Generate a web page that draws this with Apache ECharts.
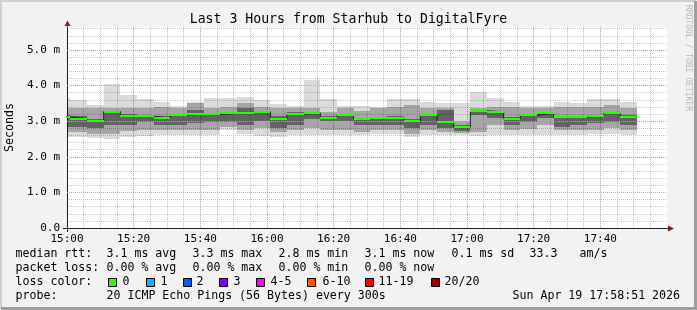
<!DOCTYPE html>
<html><head><meta charset="utf-8">
<script src="https://cdn.jsdelivr.net/npm/echarts@6/dist/echarts.min.js"></script>
<style>html,body{margin:0;padding:0;background:#f2f2f2}#c{width:697px;height:310px}</style>
</head><body><div id="c"></div>
<script>
// ---- data (minutes since 15:00; values in ms) ----
const barStartMin = [-4,1,6,11,16,21,26,31,36,41,46,51,56,61,66,71,76,81,86,91,96,101,106,111,116,121,126,131,136,141,146,151,156,161,166];
const stepMin = 5;
const rttMax = [3.65,3.60,3.46,4.05,3.74,3.62,3.55,3.43,3.55,3.66,3.65,3.67,3.60,3.47,3.44,4.16,3.63,3.43,3.43,3.41,3.62,3.63,3.55,3.50,3.52,3.83,3.66,3.55,3.43,3.43,3.55,3.50,3.62,3.62,3.55];
const rttHi2 = [3.36,3.36,3.36,3.38,3.38,3.36,3.41,3.36,3.50,3.36,3.41,3.50,3.41,3.36,3.36,3.36,3.27,3.36,3.30,3.36,3.41,3.46,3.36,3.36,3.00,3.36,3.41,3.41,3.36,3.36,3.41,3.41,3.41,3.46,3.36];
const rttHi1 = [3.17,3.14,3.05,3.30,3.20,3.18,3.15,3.20,3.31,3.22,3.25,3.38,3.30,3.15,3.25,3.26,3.14,3.20,3.10,3.12,3.14,3.05,3.20,3.31,2.88,3.32,3.30,3.12,3.20,3.25,3.14,3.14,3.18,3.25,3.18];
const rttMedian = [3.12,3.07,3.00,3.27,3.14,3.14,3.09,3.17,3.20,3.19,3.22,3.24,3.27,3.05,3.20,3.23,3.10,3.17,3.07,3.10,3.10,3.00,3.17,2.97,2.83,3.29,3.27,3.07,3.17,3.22,3.11,3.11,3.16,3.22,3.13];
const rttLo1 = [2.85,2.84,2.80,2.89,2.89,2.98,2.89,2.89,2.94,2.98,2.98,2.89,3.00,2.82,2.89,3.05,3.00,3.00,2.89,2.89,2.89,2.80,2.89,2.80,2.72,3.17,3.10,2.89,2.98,3.10,2.84,2.89,2.94,2.98,2.89];
const rttLo2 = [2.70,2.70,2.65,2.65,2.72,2.75,2.75,2.75,2.75,2.75,2.85,2.75,2.80,2.70,2.75,2.80,2.75,2.75,2.70,2.75,2.75,2.65,2.75,2.70,2.68,2.70,2.89,2.75,2.78,2.89,2.75,2.75,2.75,2.80,2.75];
const rttMin = [2.56,2.56,2.53,2.49,2.56,2.59,2.60,2.62,2.60,2.61,2.75,2.65,2.58,2.56,2.61,2.61,2.62,2.61,2.61,2.65,2.65,2.56,2.61,2.61,2.62,2.58,2.61,2.61,2.62,2.62,2.61,2.61,2.65,2.65,2.61];

const xTickLabels = ['15:00','15:20','15:40','16:00','16:20','16:40','17:00','17:20','17:40'];
const yTickLabels = ['0.0','1.0 m','2.0 m','3.0 m','4.0 m','5.0 m'];
const lossLabels = ['0','1','2','3','4-5','6-10','11-19','20/20'];
const lossColors = ['#26ff00','#00b8ff','#0059ff','#7e00ff','#ff00ff','#ff5500','#ff0000','#a10000'];
const statRtt = ['3.1 ms avg','3.3 ms max','2.8 ms min','3.1 ms now','0.1 ms sd','33.3','am/s'];
const statLoss = ['0.00 % avg','0.00 % max','0.00 % min','0.00 % now'];
const probeText = '20 ICMP Echo Pings (56 Bytes) every 300s';
const stampText = 'Sun Apr 19 17:58:51 2026';
const titleText = 'Last 3 Hours from Starhub to DigitalFyre';

// ---- chart ----
const FONT = '"DejaVu Sans Mono", monospace';
const chart = echarts.init(document.getElementById('c'), null, {renderer:'canvas', width:697, height:310});

const smokeData = barStartMin.map((t,i)=>[t, t+stepMin, rttMin[i], rttLo2[i], rttLo1[i], rttMedian[i], rttHi1[i], rttHi2[i], rttMax[i]]);
const stepData = barStartMin.map((t,i)=>[t, rttMedian[i]]);
stepData.push([barStartMin[barStartMin.length-1]+stepMin, rttMedian[rttMedian.length-1]]);
const majorYLines = yTickLabels.map((l,i)=>({yAxis:i})).slice(1);

function clipRect(p0, p1, cs){
  const x0 = Math.round(Math.min(p0[0],p1[0])), x1 = Math.round(Math.max(p0[0],p1[0]));
  const y0 = Math.round(Math.min(p0[1],p1[1])), y1 = Math.round(Math.max(p0[1],p1[1]));
  return echarts.graphic.clipRectByRect({x:x0,y:y0,width:x1-x0,height:y1-y0},{x:cs.x,y:cs.y,width:cs.width,height:cs.height});
}
const smokeLayers = [[2,8,'rgba(0,0,0,0.14)'],[3,7,'rgba(0,0,0,0.24)'],[4,6,'rgba(0,0,0,0.40)']];
function renderSmoke(params, api){
  const cs = params.coordSys;
  const t0 = api.value(0), t1 = api.value(1);
  const children = [];
  smokeLayers.forEach(([a,b,c])=>{
    const r = clipRect(api.coord([t0, api.value(b)]), api.coord([t1, api.value(a)]), cs);
    if (r) children.push({type:'rect', shape:r, style:{fill:c}});
  });
  return {type:'group', children};
}
function renderMedian(params, api){
  const cs = params.coordSys;
  const p0 = api.coord([api.value(0), api.value(5)]);
  const p1 = api.coord([api.value(1), api.value(5)]);
  const y = Math.round(p0[1]);
  const r = echarts.graphic.clipRectByRect({x:Math.round(p0[0]), y:y-1, width:Math.round(p1[0])-Math.round(p0[0]), height:2},{x:cs.x,y:cs.y,width:cs.width,height:cs.height});
  if (!r) return null;
  return {type:'rect', shape:r, style:{fill:lossColors[0]}};
}

const GRID = {left:67, right:30, top:26.9, bottom:82};
const GRAY = '#c6c6c6', PINK = '#f08a8a';
const minorLine = {show:true, showMaxLine:false, lineStyle:{color:GRAY, type:[1,1], width:1}};
const majorLine = {show:true, showMaxLine:false, showMinLine:false, lineStyle:{color:PINK, type:[1,1], width:1}};

const graphics = [];
// borders
graphics.push({type:'polyline', shape:{points:[[1,309],[1,1],[696,1]]}, style:{stroke:'#cfcfcf', lineWidth:2, fill:null}, silent:true});
graphics.push({type:'polyline', shape:{points:[[1,308.5],[695.5,308.5],[695.5,1]]}, style:{stroke:'#9e9e9e', lineWidth:3, fill:null}, silent:true});
// axis extensions and arrows
graphics.push({type:'line', shape:{x1:63, y1:228.5, x2:67, y2:228.5}, style:{stroke:'#1f1f1f', lineWidth:1}, silent:true});
graphics.push({type:'line', shape:{x1:667, y1:228.5, x2:669, y2:228.5}, style:{stroke:'#1f1f1f', lineWidth:1}, silent:true});
graphics.push({type:'line', shape:{x1:67.5, y1:228, x2:67.5, y2:232}, style:{stroke:'#1f1f1f', lineWidth:1}, silent:true});
graphics.push({type:'polygon', shape:{points:[[668,225.5],[674,228.5],[668,231.5]]}, style:{fill:'#801f1f'}, silent:true});
graphics.push({type:'polygon', shape:{points:[[64.5,26],[67.5,20.5],[70.5,26]]}, style:{fill:'#801f1f'}, silent:true});
// watermark
graphics.push({type:'text', x:688, y:5, rotation:-Math.PI/2, style:{text:'RRDTOOL / TOBI OETIKER', fontFamily:FONT, fontSize:8, fill:'#b8b8b8', align:'left', verticalAlign:'middle'}, silent:true});
// legend
function txt(text, x, y){ return {type:'text', x:x, y:y, style:{text:text, fontFamily:FONT, fontSize:11.6, fill:'#000', align:'left', verticalAlign:'middle'}, silent:true}; }
const statX = [107,193,279,365,452,530,580];
graphics.push(txt('median rtt:', 15.5, 254));
statRtt.forEach((s,i)=>graphics.push(txt(s, statX[i]-0.5, 254)));
graphics.push(txt('packet loss:', 15.5, 268));
statLoss.forEach((s,i)=>graphics.push(txt(s, statX[i]-0.5, 268)));
graphics.push(txt('loss color:', 15.5, 282));
const boxX = [108,146,183,219,256,307,365,431];
const boxLabelX = [123,161,197,234,271,323,379,445];
lossLabels.forEach((l,i)=>{
  graphics.push({type:'rect', shape:{x:boxX[i]+0.5, y:278.5, width:8, height:8}, style:{fill:lossColors[i], stroke:'#000', lineWidth:1}, silent:true});
  graphics.push(txt(l, boxLabelX[i]-0.5, 282));
});
graphics.push(txt('probe:', 15.5, 296));
graphics.push(txt(probeText, 106.5, 296));
graphics.push(txt(stampText, 512.5, 296));

const option = {
  backgroundColor:'#f2f2f2',
  animation:false,
  title:{text:titleText, left:'center', top:13.5, padding:0, textStyle:{fontFamily:FONT, fontSize:13.2, fontWeight:'normal', color:'#000'}},
  grid:{left:GRID.left, right:GRID.right, top:GRID.top, bottom:GRID.bottom, containLabel:false, outerBoundsMode:'none', show:true, backgroundColor:'#ffffff', borderWidth:0},
  xAxis:{type:'value', min:0, max:180, interval:20, position:'bottom',
     axisLine:{show:true, onZero:false, lineStyle:{color:'#1f1f1f', width:1}}, axisTick:{show:false},
     axisLabel:{show:true, showMaxLabel:false, margin:5.5, fontFamily:FONT, fontSize:11, color:'#000',
       formatter:v=>xTickLabels[Math.round(v/20)] || ''},
     splitLine:majorLine,
     minorTick:{show:false, splitNumber:4},
     minorSplitLine:{show:true, lineStyle:{color:GRAY, type:[1,1], width:1}}},
  yAxis:[
    {type:'value', min:0, max:5.65, interval:1, position:'left',
     name:'Seconds', nameLocation:'middle', nameRotate:90, nameGap:48,
     nameTextStyle:{fontFamily:FONT, fontSize:11.6, color:'#000'},
     axisLine:{show:true, onZero:false, lineStyle:{color:'#1f1f1f', width:1}}, axisTick:{show:false},
     axisLabel:{show:true, showMaxLabel:false, margin:7, fontFamily:FONT, fontSize:11, color:'#000',
       formatter:v=>(Math.abs(v-Math.round(v))<1e-6 ? (yTickLabels[Math.round(v)]||'') : '')},
     splitLine:{show:false}},
    {type:'value', min:0, max:5.65, interval:0.2, position:'left', axisLine:{show:false}, axisTick:{show:false}, axisLabel:{show:false}, splitLine:minorLine}
  ],
  series:[
    {type:'line', name:'major grid', yAxisIndex:0, data:stepData, symbol:'none', lineStyle:{opacity:0, width:0}, z:1, silent:true,
     markLine:{silent:true, symbol:['none','none'], label:{show:false}, animation:false,
       lineStyle:{color:PINK, type:[1,1], width:1}, emphasis:{disabled:true}, data:majorYLines}},
    {type:'custom', name:'smoke', yAxisIndex:0, renderItem:renderSmoke, data:smokeData,
     encode:{x:[0,1], y:[2,3,4,5,6,7,8]}, z:2, silent:true},
    {type:'line', name:'median step', yAxisIndex:0, data:stepData, step:'end', symbol:'none',
     lineStyle:{color:'#202020', width:1}, z:3, silent:true, clip:true},
    {type:'custom', name:'median', yAxisIndex:0, renderItem:renderMedian, data:smokeData,
     encode:{x:[0,1], y:[5]}, z:4, silent:true}
  ],
  graphic:graphics
};
chart.setOption(option);
</script>
</body></html>
